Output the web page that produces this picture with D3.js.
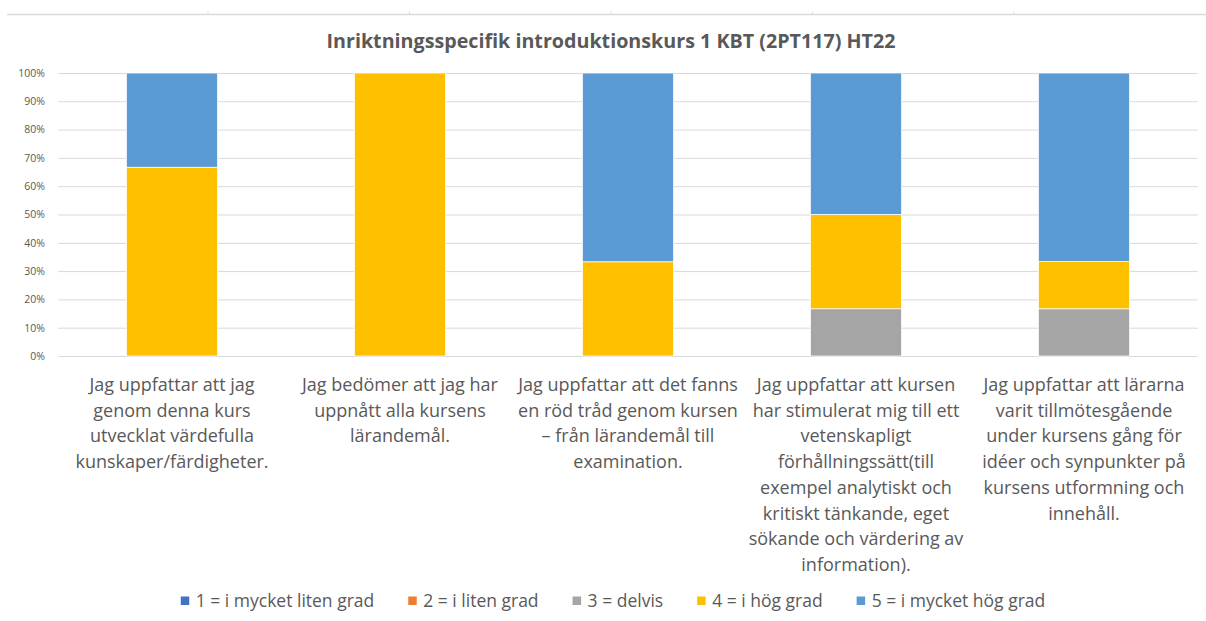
<!DOCTYPE html>
<html>
<head>
<meta charset="utf-8">
<script src="https://cdn.jsdelivr.net/npm/d3@7"></script>
<style>
  body { margin: 0; background: #fff; }
  svg { display: block; font-family: "Open Sans", Lato, sans-serif; }
</style>
</head>
<body>
<svg id="chart" width="1206" height="621"></svg>
<script>
// data (share of answers, %)
var categories = ["q1", "q2", "q3", "q4", "q5"];
var categoryLabels = [
    ["Jag uppfattar att jag", "genom denna kurs", "utvecklat värdefulla", "kunskaper/färdigheter."],
    ["Jag bedömer att jag har", "uppnått alla kursens", "lärandemål."],
    ["Jag uppfattar att det fanns", "en röd tråd genom kursen", "– från lärandemål till", "examination."],
    ["Jag uppfattar att kursen", "har stimulerat mig till ett", "vetenskapligt", "förhållningssätt(till", "exempel analytiskt och", "kritiskt tänkande, eget", "sökande och värdering av", "information)."],
    ["Jag uppfattar att lärarna", "varit tillmötesgående", "under kursens gång för", "idéer och synpunkter på", "kursens utformning och", "innehåll."]
];
var seriesNames = ["1 = i mycket liten grad", "2 = i liten grad", "3 = delvis", "4 = i hög grad", "5 = i mycket hög grad"];
var seriesColors = ["#4472C4", "#ED7D31", "#A5A5A5", "#FFC000", "#5B9BD5"];
var level1 = [0, 0, 0, 0, 0];
var level2 = [0, 0, 0, 0, 0];
var level3 = [0, 0, 0, 16.7, 16.7];
var level4 = [66.7, 100, 33.3, 33.3, 16.7];
var level5 = [33.3, 0, 66.7, 50, 66.7];
var yTicks = [0, 0.1, 0.2, 0.3, 0.4, 0.5, 0.6, 0.7, 0.8, 0.9, 1];
var chartTitle = "Inriktningsspecifik introduktionskurs 1 KBT (2PT117) HT22";

var svg = d3.select("#chart");
var textColor = "#595959";

var table = categories.map(function (c, i) {
    return { cat: c, s0: level1[i], s1: level2[i], s2: level3[i], s3: level4[i], s4: level5[i] };
});
var keys = ["s0", "s1", "s2", "s3", "s4"];
var stacked = d3.stack().keys(keys).offset(d3.stackOffsetExpand)(table);

var plotLeft = 58, plotRight = 1198, plotTop = 73, plotBottom = 356;

var x = d3.scaleBand().domain(categories).range([plotLeft, plotRight])
    .paddingInner(0.6).paddingOuter(0.3);
var y = d3.scaleLinear().domain([0, 1]).range([plotBottom, plotTop]);

// faint line at the very top with small ticks
var topScale = d3.scaleLinear().domain([0, 4]).range([208, 1014]);
var topLine = svg.append("g").attr("transform", "translate(0,14.5)");
topLine.append("line")
    .attr("x1", 7).attr("x2", 1206)
    .attr("stroke", "#d9d9d9").attr("stroke-width", 1.5);
topLine.selectAll(".tt")
    .data(d3.range(5))
    .enter().append("line")
    .attr("x1", function (d) { return topScale(d); })
    .attr("x2", function (d) { return topScale(d); })
    .attr("y1", -3).attr("y2", 0)
    .attr("stroke", "#d9d9d9");

// title
svg.append("text")
    .attr("x", 611)
    .attr("y", 48)
    .attr("text-anchor", "middle")
    .attr("font-size", "19.7px")
    .attr("font-weight", "bold")
    .style("fill", textColor)
    .text(chartTitle);

// y axis with gridlines
var yAxis = svg.append("g")
    .attr("transform", "translate(" + plotLeft + ",0)")
    .call(d3.axisLeft(y).tickValues(yTicks)
        .tickFormat(d3.format(".0%"))
        .tickSize(-(plotRight - plotLeft))
        .tickPadding(13));
yAxis.select(".domain").remove();
yAxis.selectAll(".tick line").attr("stroke", "#d9d9d9").attr("stroke-width", 1);
yAxis.selectAll(".tick text")
    .attr("font-size", "10.5px")
    .attr("font-family", "\"Open Sans\", sans-serif")
    .style("fill", textColor);

// bars
svg.append("g").selectAll("g")
    .data(stacked)
    .enter().append("g")
    .attr("fill", function (d, i) { return seriesColors[i]; })
    .selectAll("rect")
    .data(function (d) { return d; })
    .enter().append("rect")
    .attr("x", function (d) { return x(d.data.cat); })
    .attr("y", function (d) { return y(d[1]); })
    .attr("width", x.bandwidth())
    .attr("height", function (d) { return y(d[0]) - y(d[1]); })
    .attr("stroke", function (d) { return d[1] - d[0] > 0 ? "#fff" : "none"; })
    .attr("stroke-width", 0.75);

// category labels
var labels = svg.append("g").selectAll("text")
    .data(categories)
    .enter().append("text")
    .attr("x", function (d) { return x(d) + x.bandwidth() / 2; })
    .attr("y", 391)
    .attr("text-anchor", "middle")
    .attr("font-size", "18px")
    .style("fill", textColor);
labels.each(function (d, i) {
    var t = d3.select(this);
    categoryLabels[i].forEach(function (line, j) {
        t.append("tspan")
            .attr("x", x(d) + x.bandwidth() / 2)
            .attr("dy", j === 0 ? 0 : 25.7)
            .text(line);
    });
});

// legend
var legend = svg.append("g");
var items = legend.selectAll("g")
    .data(seriesNames)
    .enter().append("g");
items.append("rect")
    .attr("width", 8.5).attr("height", 8.5)
    .attr("y", 596.5)
    .attr("fill", function (d, i) { return seriesColors[i]; });
items.append("text")
    .attr("x", 15)
    .attr("y", 606.5)
    .attr("font-size", "17.5px")
    .style("fill", textColor)
    .text(function (d) { return d; });

var widths = [];
items.each(function () {
    widths.push(15 + d3.select(this).select("text").node().getComputedTextLength());
});
var gap = 34;
var total = d3.sum(widths) + gap * (widths.length - 1);
var pos = 613 - total / 2;
items.attr("transform", function (d, i) {
    var p = pos;
    pos += widths[i] + gap;
    return "translate(" + p + ",0)";
});
</script>
</body>
</html>
